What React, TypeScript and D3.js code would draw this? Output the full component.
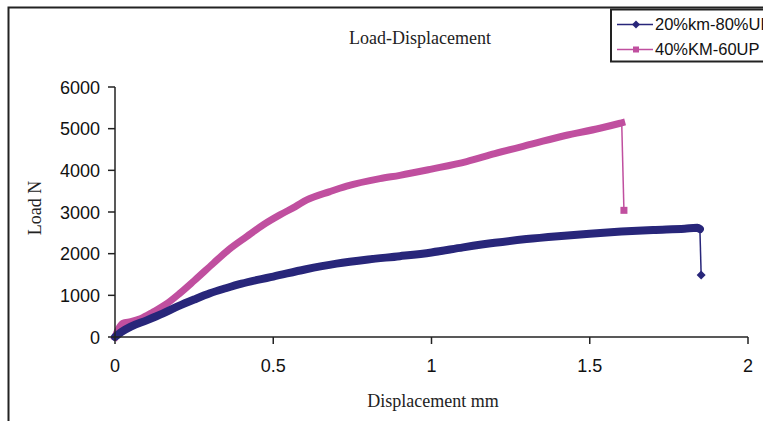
import React from 'react';
import { scaleLinear, line, curveMonotoneX } from 'd3';

const width = 763;
const height = 421;

// plot area
const x0 = 115, x1 = 748;
const y0 = 337, y1 = 87;

const xTicks = [0, 0.5, 1, 1.5, 2];
const xTickLabels = ['0', '0.5', '1', '1.5', '2'];
const yTicks = [0, 1000, 2000, 3000, 4000, 5000, 6000];
const yTickLabels = ['0', '1000', '2000', '3000', '4000', '5000', '6000'];

const seriesNames = ['20%km-80%UP', '40%KM-60UP'];
const seriesColors = ['#28267a', '#c04f9f'];

// 20%km-80%UP  [displacement mm, load N]
const blueLoad: [number, number][] = [
  [0, 0], [0.02, 120], [0.05, 250], [0.1, 400], [0.15, 560], [0.2, 740],
  [0.25, 900], [0.3, 1050], [0.35, 1170], [0.4, 1280], [0.45, 1370],
  [0.5, 1450], [0.6, 1620], [0.7, 1760], [0.8, 1860], [0.9, 1940],
  [1.0, 2030], [1.1, 2150], [1.2, 2260], [1.3, 2350], [1.4, 2420],
  [1.5, 2480], [1.6, 2530], [1.7, 2570], [1.8, 2600], [1.84, 2620], [1.848, 2590],
];
const blueDrop: [number, number][] = [[1.848, 2590], [1.852, 1490]];

// 40%KM-60UP
const pinkLoad: [number, number][] = [
  [0, 0], [0.01, 180], [0.025, 330], [0.05, 370], [0.08, 440], [0.12, 600],
  [0.16, 780], [0.205, 1050], [0.25, 1350], [0.311, 1770], [0.36, 2100],
  [0.416, 2410], [0.47, 2700], [0.521, 2930], [0.57, 3130], [0.606, 3290],
  [0.679, 3490], [0.732, 3620], [0.837, 3800], [0.9, 3880], [1.0, 4030],
  [1.111, 4210], [1.2, 4400], [1.322, 4640], [1.42, 4830], [1.532, 5010],
  [1.596, 5130], [1.601, 5140],
];
const pinkDrop: [number, number][] = [[1.601, 5140], [1.608, 3040]];

const serif = '"Liberation Serif", "Times New Roman", serif';
const sans = '"Liberation Sans", Arial, sans-serif';

function Diamond({ cx, cy, r, fill }: { cx: number; cy: number; r: number; fill: string }) {
  return <path d={`M${cx},${cy - r}L${cx + r},${cy}L${cx},${cy + r}L${cx - r},${cy}Z`} fill={fill} />;
}

function Square({ cx, cy, r, fill }: { cx: number; cy: number; r: number; fill: string }) {
  return <rect x={cx - r} y={cy - r} width={r * 2} height={r * 2} fill={fill} />;
}

export default function App() {
  const x = scaleLinear().domain([0, 2]).range([x0, x1]);
  const y = scaleLinear().domain([0, 6000]).range([y0, y1]);
  const smooth = line<[number, number]>().x(d => x(d[0])).y(d => y(d[1])).curve(curveMonotoneX);
  const path = line<[number, number]>().x(d => x(d[0])).y(d => y(d[1]));

  const blueEnd = blueDrop[1];
  const pinkEnd = pinkDrop[1];

  return (
    <svg width={width} height={height} style={{ position: 'absolute', left: 0, top: 0, background: '#fff' }}>
      <rect x={0} y={0} width={width} height={height} fill="#fff" />
      {/* outer chart frame */}
      <rect x={8.5} y={7.5} width={900} height={600} fill="none" stroke="#222" strokeWidth={2} />

      <text x={420} y={44} textAnchor="middle" fontFamily={serif} fontSize={18} fill="#222">Load-Displacement</text>

      {/* series */}
      <path d={smooth(pinkLoad) || ''} fill="none" stroke={seriesColors[1]} strokeWidth={7} strokeLinejoin="round" strokeLinecap="square" />
      <path d={path(pinkDrop) || ''} fill="none" stroke={seriesColors[1]} strokeWidth={1.5} />
      <Square cx={x(pinkEnd[0])} cy={y(pinkEnd[1])} r={3.5} fill={seriesColors[1]} />

      <path d={smooth(blueLoad) || ''} fill="none" stroke={seriesColors[0]} strokeWidth={8} strokeLinejoin="round" strokeLinecap="round" />
      <path d={path(blueDrop) || ''} fill="none" stroke={seriesColors[0]} strokeWidth={1.5} />
      <Diamond cx={x(blueEnd[0])} cy={y(blueEnd[1])} r={4.5} fill={seriesColors[0]} />

      {/* y axis */}
      <line x1={x0} x2={x0} y1={y(6000)} y2={y0} stroke="#222" strokeWidth={1.5} />
      {yTicks.map((t, i) => (
        <g key={t} transform={`translate(0,${y(t)})`}>
          <line x1={x0 - 7} x2={x0} stroke="#222" strokeWidth={1.5} />
          <text x={100} y={6.5} textAnchor="end" fontFamily={sans} fontSize={18} fill="#111">{yTickLabels[i]}</text>
        </g>
      ))}

      {/* x axis */}
      <line x1={x0} x2={x(2)} y1={y0} y2={y0} stroke="#222" strokeWidth={1.5} />
      {xTicks.map((t, i) => (
        <g key={t} transform={`translate(${x(t)},0)`}>
          <line y1={y0} y2={y0 + 7} stroke="#222" strokeWidth={1.5} />
          <text y={372} textAnchor="middle" fontFamily={sans} fontSize={18} fill="#111">{xTickLabels[i]}</text>
        </g>
      ))}

      <text x={433} y={407} textAnchor="middle" fontFamily={serif} fontSize={18} fill="#222">Displacement mm</text>
      <text transform="translate(41,208) rotate(-90)" textAnchor="middle" fontFamily={serif} fontSize={18} fill="#222">Load N</text>

      {/* legend */}
      <rect x={611} y={9.5} width={300} height={52} fill="#fff" stroke="#222" strokeWidth={2} />
      <line x1={617} x2={653} y1={24.5} y2={24.5} stroke={seriesColors[0]} strokeWidth={1.5} />
      <Diamond cx={636} cy={24.5} r={4} fill={seriesColors[0]} />
      <text x={655} y={30} fontFamily={sans} fontSize={16.5} fill="#111">{seriesNames[0]}</text>
      <line x1={617} x2={653} y1={49.5} y2={49.5} stroke={seriesColors[1]} strokeWidth={1.5} />
      <Square cx={636} cy={49.5} r={3} fill={seriesColors[1]} />
      <text x={655} y={55} fontFamily={sans} fontSize={16.5} fill="#111">{seriesNames[1]}</text>
    </svg>
  );
}
